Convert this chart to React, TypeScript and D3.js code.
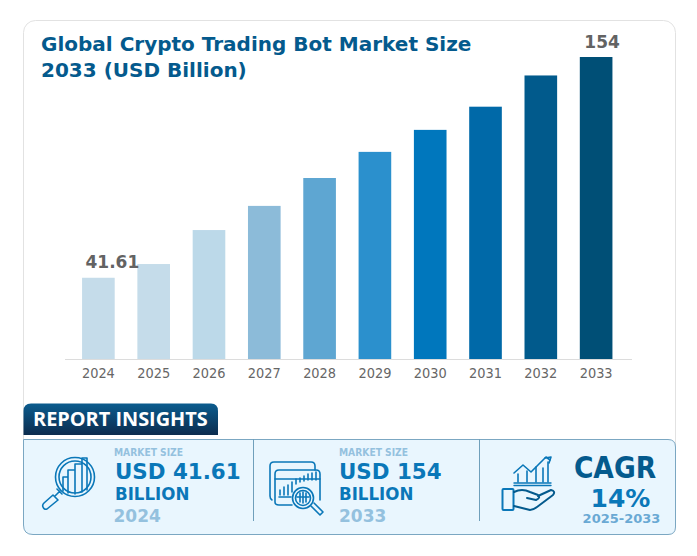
import React, { useEffect, useRef } from 'react';
import * as d3 from 'd3';

const years = ['2024', '2025', '2026', '2027', '2028', '2029', '2030', '2031', '2032', '2033'];
const marketSize = [41.61, 48.6, 65.9, 78.2, 92.4, 105.7, 116.9, 128.7, 144.6, 154];
const barColors = ['#c5dcea', '#c5dcea', '#bcd9e9', '#8cbbd9', '#5ea6d2', '#2b90cd', '#0077bd', '#0069a8', '#015a8c', '#004f76'];
const labelledYears = ['2024', '2033'];

const FONT = '"DejaVu Sans", sans-serif';
const CONDENSED = '"DejaVu Sans Condensed", "DejaVu Sans", sans-serif';
const BLUE = '#0a77b8';
const PALE = '#94c1de';

const App: React.FC = () => {
  const svgRef = useRef<SVGSVGElement>(null);

  useEffect(() => {
    if (!svgRef.current) return;
    const svg = d3.select(svgRef.current);
    svg.selectAll('*').remove();

    const defs = svg.append('defs');
    const grad = defs.append('linearGradient').attr('id', 'tab').attr('x1', 0).attr('x2', 0).attr('y1', 0).attr('y2', 1);
    grad.append('stop').attr('offset', '0%').attr('stop-color', '#0b5c8e');
    grad.append('stop').attr('offset', '100%').attr('stop-color', '#0c2c4e');

    const text = (x: number, y: number, s: string, size: number, fill: string, weight = 'bold', anchor = 'start', family = FONT) =>
      svg.append('text').attr('x', x).attr('y', y).attr('font-size', size).attr('font-weight', weight)
        .attr('font-family', family).attr('fill', fill).attr('text-anchor', anchor).text(s);

    // Card
    svg.append('rect').attr('x', 23.5).attr('y', 20.5).attr('width', 652).attr('height', 500).attr('rx', 12)
      .attr('fill', '#fff').attr('stroke', '#e2e2e2');

    text(41, 51, 'Global Crypto Trading Bot Market Size', 20, '#045a8d');
    text(41, 77, '2033 (USD Billion)', 20, '#045a8d');

    // Chart
    const x = d3.scaleBand<string>().domain(years).range([71, 623.5]).paddingInner(0.41).paddingOuter(0.2);
    const y = d3.scaleLinear().domain([0, 154]).range([359.5, 57]);

    svg.append('g').selectAll('rect').data(years).enter().append('rect')
      .attr('x', d => x(d)!)
      .attr('width', x.bandwidth())
      .attr('y', (d, i) => y(marketSize[i]))
      .attr('height', (d, i) => y(0) - y(marketSize[i]))
      .attr('fill', (d, i) => barColors[i]);

    const axis = d3.axisBottom(x).tickSize(0).tickPadding(8);
    const axisG = svg.append('g').attr('transform', `translate(0,${y(0)})`).call(axis);
    axisG.select('.domain').remove();
    axisG.append('line').attr('x1', 65).attr('x2', 632).attr('stroke', '#dcdcdc');
    axisG.selectAll('text').attr('font-size', 14.4).attr('font-family', CONDENSED).attr('fill', '#666');

    years.forEach((yr, i) => {
      if (!labelledYears.includes(yr)) return;
      text(x(yr)! + x.bandwidth() / 2 + (i === 0 ? 14 : 6), y(marketSize[i]) - 9.5, String(marketSize[i]), 17, '#636363', 'bold', 'middle');
    });

    // Insights panel
    svg.append('path').attr('d', 'M23.5,439.5 H668 Q675.5,439.5 675.5,447 V527 Q675.5,534.5 668,534.5 H33 Q23.5,534.5 23.5,525 Z')
      .attr('fill', '#e9f6fe').attr('stroke', '#7ba7c2');
    svg.append('path').attr('d', 'M23.5,435 V411 Q23.5,403.5 31,403.5 H211 Q218,403.5 218,411 V435 Z').attr('fill', 'url(#tab)');
    text(33, 426, 'REPORT INSIGHTS', 19.9, '#fff', 'bold', 'start', '"Open Sans", sans-serif');

    [253.5, 479.5].forEach(px => {
      svg.append('line').attr('x1', px).attr('x2', px).attr('y1', 439).attr('y2', 521).attr('stroke', '#6f9fbb');
    });

    text(114, 456, 'MARKET SIZE', 10.2, PALE, 'bold', 'start', CONDENSED);
    text(115, 479, 'USD 41.61', 21.4, BLUE);
    text(115, 500, 'BILLION', 18.5, BLUE, 'bold', 'start', CONDENSED);
    text(113.5, 522, '2024', 17, PALE);

    text(339, 456, 'MARKET SIZE', 10.2, PALE, 'bold', 'start', CONDENSED);
    text(339, 479, 'USD 154', 21.4, BLUE);
    text(339, 500, 'BILLION', 18.5, BLUE, 'bold', 'start', CONDENSED);
    text(339, 522, '2033', 17, PALE);

    text(615, 478, 'CAGR', 29.5, '#045a8d', 'bold', 'middle', CONDENSED);
    text(620.5, 507, '14%', 25, BLUE, 'bold', 'middle');
    text(621.5, 523, '2025-2033', 13, '#6aa9d4', 'bold', 'middle');

    const icon = svg.append('g').attr('fill', 'none').attr('stroke', BLUE).attr('stroke-width', 1.6)
      .attr('stroke-linecap', 'round').attr('stroke-linejoin', 'round');

    // Magnifier with bars
    icon.append('circle').attr('cx', 75).attr('cy', 477).attr('r', 19.5);
    icon.append('circle').attr('cx', 75).attr('cy', 477).attr('r', 16);
    icon.append('path').attr('d', 'M63,491 V477 H68 V493 M68,493 V470 H75 V494 M75,470 V464 H82 V492 M82,458 H87 V490 M82,464 V458');
    icon.append('path').attr('d', 'M60,491 L55,496 M57,489 L62,494 M53,495 L58,500 L47,509 Q44,510 43,507 Q42,505 44,503 Z');

    // Screens with magnifier
    icon.append('path').attr('d', 'M272,500 Q270,499 270,496 V466 Q270,462 274,462 H311 Q315,462 315,466 V470');
    icon.append('path').attr('d', 'M279,470 H316 Q320,470 320,474 V500 M275,474 Q275,470 279,470 M275,474 V502 Q275,505 279,505 H292');
    icon.append('path').attr('d', 'M275,479 H320 M279,497 H291');
    icon.append('path').attr('d', 'M280,495 V490 M284,495 V487 M288,495 V485 M292,492 V482 M296,484 V479 M300,482 V478 M304,481 V476 M308,480 V474 M312,480 V473 M316,480 V472');
    icon.append('circle').attr('cx', 303).attr('cy', 498).attr('r', 10.5);
    icon.append('circle').attr('cx', 303).attr('cy', 498).attr('r', 7.5);
    icon.append('path').attr('d', 'M297,497 H309 M300,493 V502 M303,492 V503 M306,493 V502');
    icon.append('path').attr('d', 'M311,506 L320,515 L323,512 L314,503');

    // Hand with rising chart
    icon.append('path').attr('d', 'M514,483 H551 M514,485.5 H551').attr('stroke-width', 1.4);
    icon.append('path').attr('d', 'M518,482 V474 M527,482 V471 M536,482 V467 M548,482 V462 M543,482 V468');
    icon.append('path').attr('d', 'M514,473 L523,465 L531,472 L546,457 L550,460');
    icon.append('path').attr('d', 'M545,458 L551,457 L549,463');
    icon.append('rect').attr('x', 502.5).attr('y', 489).attr('width', 11).attr('height', 21).attr('rx', 1).attr('stroke-width', 2);
    icon.append('path').attr('stroke', '#045a8d').attr('stroke-width', 2)
      .attr('d', 'M514,492 Q522,488 530,492 L538,495 Q541,498 536,500 L527,498 M514,506 L530,510 Q533,510 537,507 L553,495 Q556,491 551,490 L538,496');
  }, []);

  return <svg ref={svgRef} width={697} height={556} style={{ position: 'absolute', left: 0, top: 0 }} />;
};

export default App;
